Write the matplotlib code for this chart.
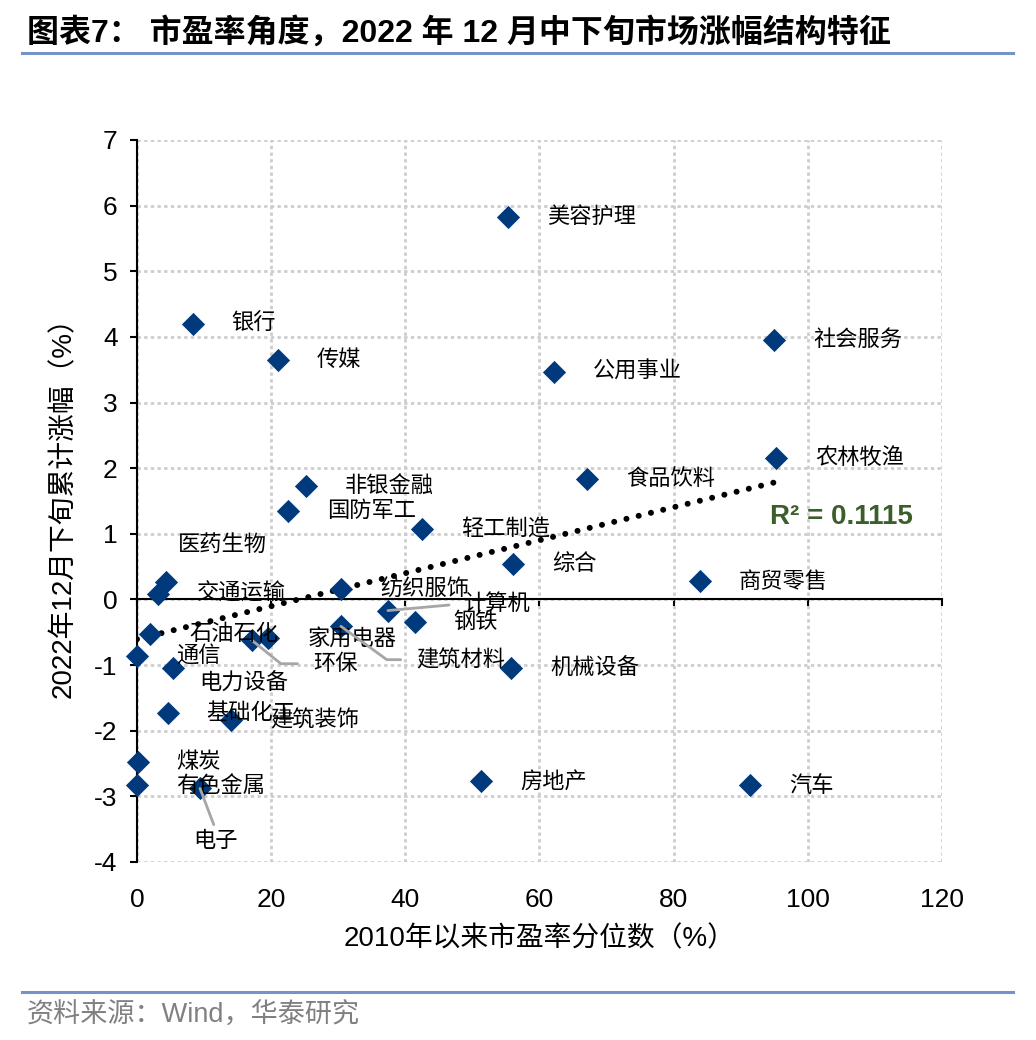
import numpy as np
import matplotlib
matplotlib.use("Agg")
import matplotlib.pyplot as plt

plt.rcParams['font.family'] = ['Liberation Sans', 'Noto Sans CJK SC']
plt.rcParams['axes.unicode_minus'] = False

# 申万一级行业：2010年以来市盈率分位数(%) 与 2022年12月中下旬累计涨幅(%)
industries = ['美容护理', '银行', '传媒', '社会服务', '公用事业', '农林牧渔', '食品饮料',
              '非银金融', '国防军工', '轻工制造', '综合', '商贸零售', '医药生物', '交通运输',
              '纺织服饰', '计算机', '钢铁', '家用电器', '建筑材料', '环保', '石油石化',
              '通信', '电力设备', '基础化工', '建筑装饰', '煤炭', '有色金属', '电子',
              '机械设备', '房地产', '汽车']
pe_pct = [55.3, 8.3, 21.0, 95.0, 62.2, 95.3, 67.1,
          25.2, 22.5, 42.5, 56.1, 83.9, 4.3, 3.1,
          30.4, 37.4, 41.4, 19.6, 30.4, 17.1, 2.0,
          0.0, 5.3, 4.6, 14.0, 0.1, 0.0, 9.4,
          55.8, 51.3, 91.4]
ret = [5.83, 4.20, 3.65, 3.96, 3.47, 2.16, 1.84,
       1.73, 1.35, 1.08, 0.54, 0.28, 0.27, 0.09,
       0.16, -0.17, -0.34, -0.59, -0.41, -0.62, -0.52,
       -0.86, -1.05, -1.73, -1.83, -2.47, -2.83, -2.88,
       -1.05, -2.77, -2.83]
r2_text = 'R² = 0.1115'

xticks = [0, 20, 40, 60, 80, 100, 120]
yticks = [-4, -3, -2, -1, 0, 1, 2, 3, 4, 5, 6, 7]

# label offsets (points) for the crowded ones; leader = gray connector line
default_off = (28, 0)
label_off = {
    '医药生物': (9, 27, None),
    '计算机': (55, 5, 'straight'),
    '建筑材料': (54, -24, 'angle,angleA=0,angleB=-36,rad=0'),
    '环保': (44, -17, 'angle,angleA=0,angleB=-39,rad=0'),
    '电力设备': (19, -11, None),
    '电子': (-5, -29, 'top'),
}

fig = plt.figure(figsize=(10.36, 10.40), dpi=100)
ax = fig.add_axes([0.1322, 0.1712, 0.7771, 0.6942])

ax.set_xlim(0, 120)
ax.set_ylim(-4, 7)
ax.set_xticks(xticks)
ax.set_yticks(yticks)
ax.grid(True, color='#CDCDCD', linestyle=(0, (1.2, 1.2)), linewidth=2.0)
ax.set_axisbelow(True)

for s in ['top', 'right']:
    ax.spines[s].set_visible(False)
ax.spines['left'].set_linewidth(1.5)
ax.spines['bottom'].set_position(('data', 0))
ax.spines['bottom'].set_linewidth(1.5)
ax.tick_params(axis='x', direction='out', length=5, width=1.5, labelbottom=False)
ax.tick_params(axis='y', direction='out', length=5, width=1.5, labelsize=19, pad=9)

sec = ax.secondary_xaxis('bottom')
sec.spines['bottom'].set_visible(False)
sec.set_xticks(xticks)
sec.tick_params(length=0, labelsize=19, pad=19)
sec.set_xlabel('2010年以来市盈率分位数（%）', fontsize=20, labelpad=10)
ax.set_ylabel('2022年12月下旬累计涨幅（%）', fontsize=20, labelpad=12)

# trend line from the data
x = np.array(pe_pct)
y = np.array(ret)
k, b = np.polyfit(x, y, 1)
xs = np.array([x.min(), x.max()])
ax.plot(xs, k * xs + b, color='black', linewidth=4.3,
        linestyle=(0, (0.01, 2.1)), dash_capstyle='round', zorder=3)

ax.scatter(pe_pct, ret, marker='D', s=140, color='#003A7D', zorder=4, linewidths=0,
           clip_on=False)

for name, px, py in zip(industries, pe_pct, ret):
    dx, dy, leader = label_off.get(name, default_off + (None,))
    kw = {}
    if leader == 'top':
        kw['arrowprops'] = dict(arrowstyle='-', color='#A6A6A6', lw=2, shrinkA=1, shrinkB=0,
                                relpos=(0.5, 1.0))
    elif leader is not None:
        conn = 'arc3' if leader == 'straight' else leader
        kw['arrowprops'] = dict(arrowstyle='-', color='#A6A6A6', lw=2, shrinkA=9, shrinkB=0,
                                relpos=(0, 0.5), connectionstyle=conn)
    ha = 'center' if leader == 'top' else 'left'
    va = 'top' if leader == 'top' else 'center'
    if leader == 'top':
        dx += 16
    ax.annotate(name, (px, py), xytext=(dx, dy), textcoords='offset points',
                ha=ha, va=va, fontsize=16, family=['Noto Sans CJK SC'], zorder=5, **kw)

ax.text(94.4, 1.25, r2_text, fontsize=20, fontweight='bold', color='#3B5E2B',
        ha='left', va='center', zorder=5)

# title, rules and source
fig.text(0.026, 1 - 33 / 1040, '图表7： 市盈率角度，2022 年 12 月中下旬市场涨幅结构特征',
         fontsize=23, fontweight='bold', ha='left', va='center')
fig.add_artist(plt.Line2D([0.021, 0.978], [1 - 53 / 1040] * 2, color='#7393C9', lw=2.2))
fig.add_artist(plt.Line2D([0.021, 0.978], [1 - 992 / 1040] * 2, color='#7393C9', lw=2.2))
fig.text(0.026, 1 - 1016 / 1040, '资料来源：Wind，华泰研究', fontsize=19.5, color='#808080',
         ha='left', va='center')

fig.savefig('out.png', dpi=100)
